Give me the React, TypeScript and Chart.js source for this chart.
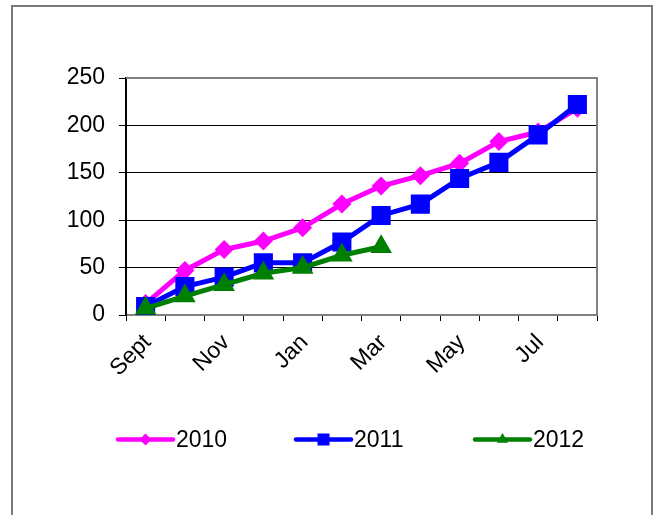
import React, { useEffect, useRef } from 'react';
import { Chart, registerables } from 'chart.js';

Chart.register(...registerables);

const months = ['Sept', 'Oct', 'Nov', 'Dec', 'Jan', 'Feb', 'Mar', 'Apr', 'May', 'Jun', 'Jul', 'Aug'];
const seriesLabels = ['2010', '2011', '2012'];
const values2010 = [12, 47, 69, 78, 92, 117, 136, 147, 160, 183, 193, 218];
const values2011 = [9, 30, 40, 55, 55, 77, 105, 117, 144, 161, 190, 222];
const values2012 = [7, 20, 32, 44, 50, 63, 72];
const yMin = 0;
const yMax = 250;
const yStep = 50;

const FONT = '"Liberation Sans", Arial, sans-serif';

function drawMarker(ctx: CanvasRenderingContext2D, style: string, x: number, y: number, r: number) {
  ctx.beginPath();
  if (style === 'rectRot') {
    ctx.moveTo(x - r, y);
    ctx.lineTo(x, y - r);
    ctx.lineTo(x + r, y);
    ctx.lineTo(x, y + r);
  } else if (style === 'rect') {
    ctx.rect(x - r, y - r, 2 * r, 2 * r);
  } else {
    ctx.moveTo(x, y - r);
    ctx.lineTo(x + r * 0.866, y + r * 0.5);
    ctx.lineTo(x - r * 0.866, y + r * 0.5);
  }
  ctx.closePath();
  ctx.fill();
}

const framePlugin = {
  id: 'frame',
  beforeDraw(chart: any) {
    const ctx = chart.ctx;
    ctx.save();
    ctx.strokeStyle = '#7a7a7a';
    ctx.lineWidth = 2;
    ctx.beginPath();
    ctx.moveTo(12, 530);
    ctx.lineTo(12, 6);
    ctx.lineTo(652, 6);
    ctx.lineTo(652, 530);
    ctx.stroke();
    ctx.restore();
  },
  beforeDatasetsDraw(chart: any) {
    const { ctx, chartArea } = chart;
    ctx.save();
    ctx.strokeStyle = '#808080';
    ctx.lineWidth = 2;
    ctx.beginPath();
    ctx.moveTo(chartArea.left, chartArea.top);
    ctx.lineTo(chartArea.right, chartArea.top);
    ctx.lineTo(chartArea.right, chartArea.bottom);
    ctx.stroke();
    ctx.restore();
  },
};

const legendPlugin = {
  id: 'customLegend',
  afterDraw(chart: any) {
    const ctx = chart.ctx;
    const starts = [118, 296, 475];
    const lineLen = 55;
    const y = 439.5;
    const markerSizes: Record<string, number> = { rectRot: 6, rect: 6, triangle: 6.5 };
    ctx.save();
    chart.data.datasets.forEach((ds: any, i: number) => {
      const x0 = starts[i];
      ctx.strokeStyle = ds.borderColor;
      ctx.fillStyle = ds.borderColor;
      ctx.lineWidth = 4.5;
      ctx.lineCap = 'round';
      ctx.beginPath();
      ctx.moveTo(x0, y);
      ctx.lineTo(x0 + lineLen, y);
      ctx.stroke();
      drawMarker(ctx, ds.pointStyle, x0 + lineLen / 2, y, markerSizes[ds.pointStyle]);
      ctx.fillStyle = '#000';
      ctx.font = '23px ' + FONT;
      ctx.textAlign = 'left';
      ctx.textBaseline = 'middle';
      ctx.fillText(ds.label, x0 + lineLen + 3, y + 1);
    });
    ctx.restore();
  },
};

export default function App() {
  const canvasRef = useRef<HTMLCanvasElement | null>(null);

  useEffect(() => {
    if (!canvasRef.current) return;
    const chart = new Chart(canvasRef.current, {
      type: 'line',
      data: {
        labels: months,
        datasets: [
          {
            label: seriesLabels[0],
            data: values2010,
            borderColor: '#ff00ff',
            backgroundColor: '#ff00ff',
            borderWidth: 5,
            pointStyle: 'rectRot',
            pointRadius: 9.5,
            pointBorderWidth: 0,
            pointHoverRadius: 9.5,
            tension: 0,
            order: 3,
          },
          {
            label: seriesLabels[1],
            data: values2011,
            borderColor: '#0000ff',
            backgroundColor: '#0000ff',
            borderWidth: 5,
            pointStyle: 'rect',
            pointRadius: 13.5,
            pointBorderWidth: 0,
            pointHoverRadius: 13.5,
            tension: 0,
            order: 2,
          },
          {
            label: seriesLabels[2],
            data: values2012,
            borderColor: '#008000',
            backgroundColor: '#008000',
            borderWidth: 5,
            pointStyle: 'triangle',
            pointRadius: 12.5,
            pointBorderWidth: 0,
            pointHoverRadius: 12.5,
            tension: 0,
            order: 1,
          },
        ],
      },
      options: {
        animation: false,
        responsive: false,
        events: [],
        layout: { padding: { left: 0, right: 63, top: 78, bottom: 100 } },
        plugins: {
          legend: { display: false },
          tooltip: { enabled: false },
          title: { display: false },
        },
        scales: {
          x: {
            type: 'category',
            offset: true,
            afterFit: (scale: any) => {
              scale.height = 100;
            },
            grid: {
              offset: true,
              drawOnChartArea: false,
              drawTicks: true,
              tickLength: 6,
              color: '#000',
              lineWidth: 1,
            },
            border: { display: true, color: '#808080', width: 2 },
            ticks: {
              autoSkip: false,
              maxRotation: 45,
              minRotation: 45,
              padding: 8,
              labelOffset: 2,
              color: '#000',
              font: { size: 23, family: FONT },
              callback: (_v: any, i: number) => (i % 2 === 0 ? months[i] : ''),
            },
          },
          y: {
            min: yMin,
            max: yMax,
            afterFit: (scale: any) => {
              scale.width = 126;
            },
            grid: {
              color: '#000',
              lineWidth: 1,
              drawTicks: true,
              tickLength: 7,
            },
            border: { display: true, color: '#000', width: 2 },
            ticks: {
              stepSize: yStep,
              padding: 14,
              color: '#000',
              font: { size: 23, family: FONT },
            },
          },
        },
      },
      plugins: [framePlugin, legendPlugin],
    });
    return () => chart.destroy();
  }, []);

  return (
    <div style={{ position: 'fixed', left: 0, top: 0, width: 660, height: 515, background: '#fff' }}>
      <canvas ref={canvasRef} width={660} height={515} style={{ width: 660, height: 515, display: 'block' }} />
    </div>
  );
}
